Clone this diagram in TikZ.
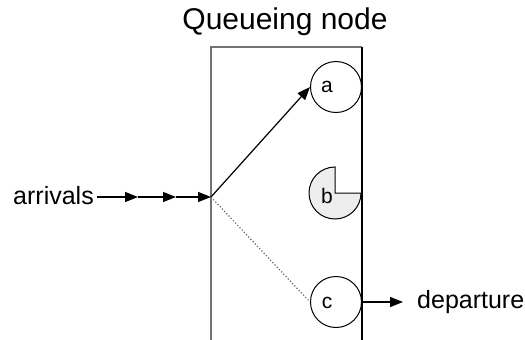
\documentclass[tikz,border=0pt]{standalone}
\usepackage{fontspec}
\setmainfont{Liberation Sans}
\usetikzlibrary{arrows.meta,positioning}

\begin{document}
\begin{tikzpicture}[x=1pt, y=-1pt,
    wall/.style={draw=black!55, line width=1.3pt},
    srv/.style={circle, draw, line width=1pt, minimum size=51pt, inner sep=0pt},
    lbl/.style={font=\fontsize{25}{28}\selectfont, inner sep=0pt},
    qlbl/.style={font=\fontsize{21}{24}\selectfont, inner sep=0pt},
    arrow/.style={-{Triangle[length=13pt,width=10pt]}, line width=1.2pt}
]
\useasboundingbox (0,0) rectangle (525,340);

% Title
\node[font=\fontsize{30}{34}\selectfont] (title) at (285,22) {Queueing node};

% Queue box (open at the bottom)
\draw[wall] (211,340) -- (211,47) -- (362,47);
\draw[line width=1.1pt] (362,47) -- (362,340);

% Servers
\node[srv] (srvA) at (336,87) {};
\draw[line width=1pt, fill=black!7] (335,193) -- (335,167)
    arc[start angle=270, end angle=0, radius=26] -- cycle;
\node[srv] (srvC) at (336,302) {};

\node[qlbl] (labA) at (327,87) {a};
\node[qlbl] (labB) at (327,196) {b};
\node[qlbl] (labC) at (327,303) {c};

% Arrivals
\node[lbl, anchor=east] (arr) at (94,196) {arrivals};
\coordinate (m1) at (138,197);
\coordinate (m2) at (176,197);
\coordinate (entry) at (211,197);

% Departure
\coordinate (out) at (403,302);
\node[lbl, anchor=west] (dep) at (417,302) {departure};

% Arrows
\draw[arrow] ([xshift=3pt]arr.east |- m1) -- (m1);
\draw[arrow] (m1) -- (m2);
\draw[arrow] (m2) -- (entry);
\draw[arrow] (entry) -- (srvA.west);
\draw[dotted, black!60, line width=1.2pt] (entry) -- (srvC.west);
\draw[arrow] (srvC.east) -- (out);

\end{tikzpicture}
\end{document}
